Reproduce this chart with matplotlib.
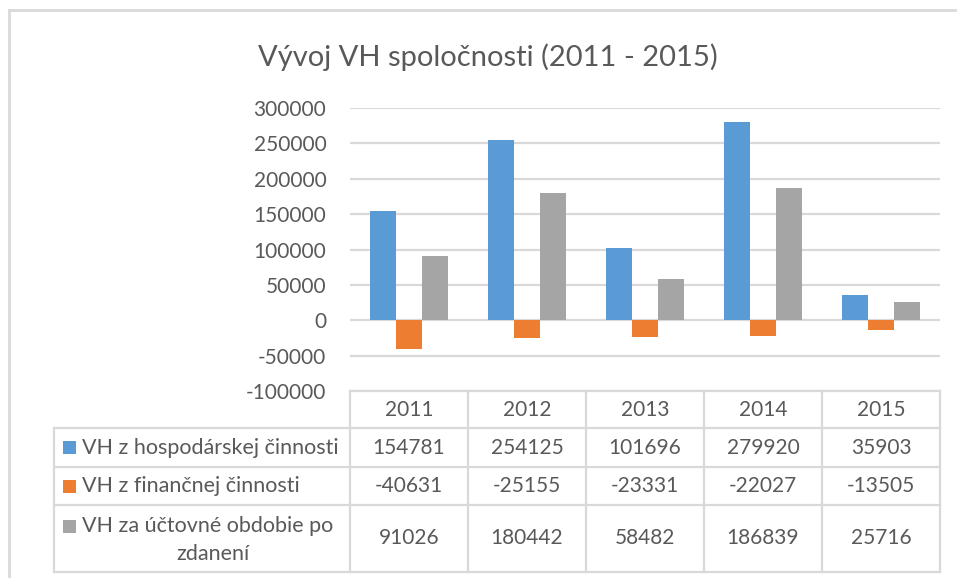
import matplotlib.pyplot as plt
from matplotlib.lines import Line2D
from matplotlib.patches import Rectangle
import numpy as np

plt.rcParams['font.family'] = ['Lato', 'DejaVu Sans']

# Data
years = ['2011', '2012', '2013', '2014', '2015']
series_names = ['VH z hospodárskej činnosti',
                'VH z finančnej činnosti',
                'VH za účtovné obdobie po\nzdanení']
hospodarska = [154781, 254125, 101696, 279920, 35903]
financna = [-40631, -25155, -23331, -22027, -13505]
po_zdaneni = [91026, 180442, 58482, 186839, 25716]
series = [hospodarska, financna, po_zdaneni]
colors = ['#5B9BD5', '#ED7D31', '#A5A5A5']
yticks = np.arange(-100000, 300001, 50000)

W, H = 957, 578
TXT = '#595959'
GRID = '#D9D9D9'


def fx(x):
    return x / W


def fy(y):
    return 1 - y / H


fig = plt.figure(figsize=(W / 100, H / 100), dpi=100)

# plot area in pixels
left, right, top, bottom = 350, 940, 108, 391
ax = fig.add_axes([fx(left), fy(bottom), fx(right - left), (bottom - top) / H])

x = np.arange(len(years))
bw = 0.223
for i, (vals, c) in enumerate(zip(series, colors)):
    ax.bar(x + (i - 1) * bw, vals, width=bw, color=c, zorder=3)

ax.set_xlim(-0.5, len(years) - 0.5)
ax.set_ylim(yticks[0], yticks[-1])
ax.set_yticks(yticks)
ax.set_yticklabels([str(v) for v in yticks], fontsize=15, color=TXT)
ax.set_xticks([])
ax.tick_params(axis='y', length=0, pad=17)
ax.grid(axis='y', color=GRID, linewidth=1.6, zorder=0)
for s in ax.spines.values():
    s.set_visible(False)

fig.text(fx(488), fy(57), 'Vývoj VH spoločnosti (2011 - 2015)',
         ha='center', va='center', fontsize=21, color=TXT)

# outer frame
fig.add_artist(Line2D([fx(9), fx(957)], [fy(10), fy(10)], color=GRID, lw=2))
fig.add_artist(Line2D([fx(9), fx(9)], [fy(10), fy(578)], color=GRID, lw=2))

# data table
col_w = (right - left) / len(years)
row_y = [391, 428, 467, 505, 572]
tleft = 54


def hline(x0, x1, y):
    fig.add_artist(Line2D([fx(x0), fx(x1)], [fy(y), fy(y)], color=GRID, lw=1.6))


def vline(x, y0, y1):
    fig.add_artist(Line2D([fx(x), fx(x)], [fy(y0), fy(y1)], color=GRID, lw=1.6))


hline(left, right, row_y[0])
for y in row_y[1:]:
    hline(tleft, right, y)
vline(tleft, row_y[1], row_y[-1])
for j in range(len(years) + 1):
    vline(left + j * col_w, row_y[0], row_y[-1])

for j, yr in enumerate(years):
    cx = left + (j + 0.5) * col_w
    fig.text(fx(cx), fy((row_y[0] + row_y[1]) / 2), yr,
             ha='center', va='center', fontsize=15, color=TXT)

for i, (name, vals, c) in enumerate(zip(series_names, series, colors)):
    y0, y1 = row_y[i + 1], row_y[i + 2]
    cy = (y0 + y1) / 2
    lines = name.split('\n')
    ly = cy if len(lines) == 1 else y0 + 21
    fig.add_artist(Rectangle((fx(63), fy(ly + 6.5)), 13 / W, 13 / H,
                             transform=fig.transFigure, color=c, lw=0))
    fig.text(fx(82), fy(ly), lines[0], ha='left', va='center',
             fontsize=15.5, color=TXT)
    if len(lines) > 1:
        fig.text(fx(213), fy(ly + 28), lines[1], ha='center', va='center',
                 fontsize=15.5, color=TXT)
    for j, v in enumerate(vals):
        cx = left + (j + 0.5) * col_w
        fig.text(fx(cx), fy(cy), str(v), ha='center', va='center',
                 fontsize=15, color=TXT)

fig.savefig('out.png', dpi=100)
